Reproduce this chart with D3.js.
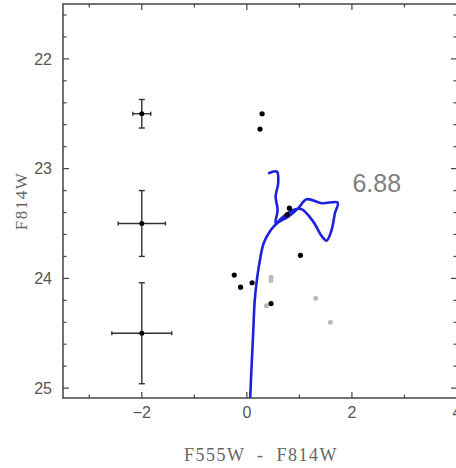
<!DOCTYPE html>
<html>
<head>
<meta charset="utf-8">
<script src="https://cdn.jsdelivr.net/npm/d3@7"></script>
<style>
  body { margin: 0; background: #fff; }
  svg { display: block; }
</style>
</head>
<body>
<div id="chart"></div>
<script>
// error bar reference points
var errX = [-2, -2, -2],
    errY = [22.5, 23.5, 24.5],
    errDX = [0.17, 0.45, 0.57],
    errDY = [0.13, 0.30, 0.46];

// observed stars (black) and field stars (grey)
var starX = [0.29, 0.25, 0.81, 0.77, 1.02, -0.24, -0.12, 0.10, 0.46],
    starY = [22.50, 22.64, 23.36, 23.42, 23.79, 23.97, 24.08, 24.04, 24.23];
var fieldX = [0.46, 0.46, 0.37, 1.31, 1.59],
    fieldY = [23.99, 24.02, 24.25, 24.18, 24.40];

// isochrone, log age 6.88
var isoX = [0.063, 0.09, 0.12, 0.15, 0.20, 0.25, 0.32, 0.44, 0.57, 0.787, 0.977, 1.137,
            1.423, 1.728, 1.676, 1.613, 1.518, 1.423, 1.263, 1.042, 0.882, 0.691, 0.547,
            0.585, 0.547, 0.596, 0.571, 0.406],
    isoY = [25.09, 24.80, 24.50, 24.20, 23.98, 23.83, 23.68, 23.57, 23.50, 23.437, 23.361, 23.279,
            23.315, 23.310, 23.407, 23.559, 23.656, 23.613, 23.483, 23.370, 23.377, 23.438, 23.498,
            23.376, 23.255, 23.133, 23.027, 23.044];
var isoLabel = "6.88";

var xTicks = [-2, 0, 2, 4], xMinor = [-3, -1, 1, 3];
var yTicks = [22, 23, 24, 25];

var W = 456, H = 468;
var margin = {top: 4, left: 63, right: -1, bottom: 70};

var svg = d3.select("#chart").append("svg")
  .attr("width", W).attr("height", H);

var x = d3.scaleLinear().domain([-3.5, 4]).range([margin.left, W - margin.right]);
var y = d3.scaleLinear().domain([21.5, 25.09]).range([margin.top, H - margin.bottom]);

var axisCol = "#444", textCol = "#555";

// frame
svg.append("rect")
  .attr("x", x(-3.5)).attr("y", y(21.5))
  .attr("width", x(4) - x(-3.5)).attr("height", y(25.09) - y(21.5))
  .attr("fill", "none").attr("stroke", axisCol).attr("stroke-width", 1.5);

// ticks (inward on all four sides)
var yMinor = d3.range(21.6, 25.09, 0.2).filter(function(v){ return Math.abs(v - Math.round(v)) > 0.01; });
var tg = svg.append("g").attr("stroke", axisCol).attr("stroke-width", 1.2);
function xt(vals, len) {
  vals.forEach(function(v){
    tg.append("line").attr("x1", x(v)).attr("x2", x(v)).attr("y1", y(25.09)).attr("y2", y(25.09) - len);
    tg.append("line").attr("x1", x(v)).attr("x2", x(v)).attr("y1", y(21.5)).attr("y2", y(21.5) + len);
  });
}
function yt(vals, len) {
  vals.forEach(function(v){
    tg.append("line").attr("y1", y(v)).attr("y2", y(v)).attr("x1", x(-3.5)).attr("x2", x(-3.5) + len);
    tg.append("line").attr("y1", y(v)).attr("y2", y(v)).attr("x1", x(4)).attr("x2", x(4) - len);
  });
}
xt(xTicks, 6); xt(xMinor, 3.5);
yt(yTicks, 6); yt(yMinor, 3.5);

// tick labels
var fmt = d3.format("d");
svg.append("g").selectAll("text").data(xTicks).enter().append("text")
  .attr("x", function(d){ return x(d); })
  .attr("y", 418)
  .attr("text-anchor", "middle")
  .style("font-family", "'Liberation Sans', Arial, sans-serif")
  .style("font-size", "16px")
  .attr("fill", textCol)
  .text(function(d){ return d < 0 ? "\u2212" + fmt(-d) : fmt(d); });

svg.append("g").selectAll("text").data(yTicks).enter().append("text")
  .attr("x", 52)
  .attr("y", function(d){ return y(d); })
  .attr("dy", "0.36em")
  .attr("text-anchor", "end")
  .style("font-family", "'Liberation Sans', Arial, sans-serif")
  .style("font-size", "16px")
  .attr("fill", textCol)
  .text(fmt);

// axis titles
svg.append("text")
  .attr("x", 261).attr("y", 461)
  .attr("text-anchor", "middle")
  .style("font-family", "'Liberation Serif', 'DejaVu Serif', serif")
  .style("font-size", "18px")
  .style("letter-spacing", "1.5px")
  .style("white-space", "pre")
  .attr("fill", "#666")
  .text("F555W  -  F814W");

svg.append("text")
  .attr("transform", "translate(27,201) rotate(-90)")
  .attr("text-anchor", "middle")
  .style("font-family", "'Liberation Serif', 'DejaVu Serif', serif")
  .style("font-size", "17px")
  .style("letter-spacing", "1.5px")
  .attr("fill", "#666")
  .text("F814W");

// error bars
var eb = svg.append("g").attr("stroke", "#333").attr("stroke-width", 1.4);
errX.forEach(function(ex, i){
  var cx = x(ex), cy = y(errY[i]);
  var x0 = x(ex - errDX[i]), x1 = x(ex + errDX[i]);
  var y0 = y(errY[i] - errDY[i]), y1 = y(errY[i] + errDY[i]);
  eb.append("line").attr("x1", x0).attr("x2", x1).attr("y1", cy).attr("y2", cy);
  eb.append("line").attr("x1", cx).attr("x2", cx).attr("y1", y0).attr("y2", y1);
  eb.append("line").attr("x1", cx - 3).attr("x2", cx + 3).attr("y1", y0).attr("y2", y0);
  eb.append("line").attr("x1", cx - 3).attr("x2", cx + 3).attr("y1", y1).attr("y2", y1);
  eb.append("line").attr("x1", x0).attr("x2", x0).attr("y1", cy - 2).attr("y2", cy + 2);
  eb.append("line").attr("x1", x1).attr("x2", x1).attr("y1", cy - 2).attr("y2", cy + 2);
  svg.append("circle").attr("cx", cx).attr("cy", cy).attr("r", 2.5).attr("fill", "#000");
});

// field stars
svg.append("g").selectAll("circle").data(fieldX).enter().append("circle")
  .attr("cx", function(d){ return x(d); })
  .attr("cy", function(d, i){ return y(fieldY[i]); })
  .attr("r", 2.5)
  .attr("fill", "#bbb");

// isochrone
var line = d3.line()
  .x(function(d){ return x(d[0]); })
  .y(function(d){ return y(d[1]); })
  .curve(d3.curveCatmullRom.alpha(0.5));
svg.append("path")
  .datum(d3.zip(isoX, isoY))
  .attr("d", line)
  .attr("fill", "none")
  .attr("stroke", "#1c22dc")
  .attr("stroke-width", 2.6)
  .attr("stroke-linejoin", "round");

svg.append("text")
  .attr("x", x(2.01)).attr("y", y(23.21))
  .style("font-family", "'Liberation Sans', Arial, sans-serif")
  .style("font-size", "25px")
  .attr("fill", "#808080")
  .text(isoLabel);

// member stars
svg.append("g").selectAll("circle").data(starX).enter().append("circle")
  .attr("cx", function(d){ return x(d); })
  .attr("cy", function(d, i){ return y(starY[i]); })
  .attr("r", 2.6)
  .attr("fill", "#000");
</script>
</body>
</html>
